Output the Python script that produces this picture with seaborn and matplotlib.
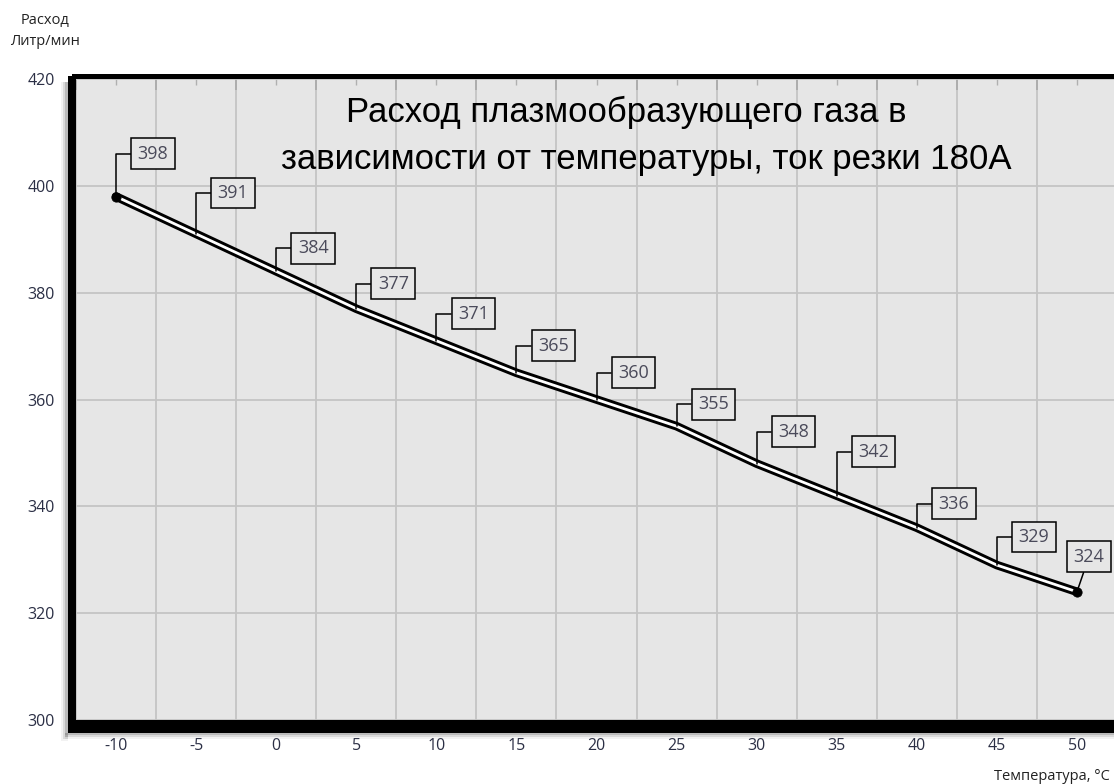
import numpy as np
import pandas as pd
import matplotlib
matplotlib.use("Agg")
import matplotlib.pyplot as plt
from matplotlib.patches import Rectangle
from matplotlib.ticker import MultipleLocator
import seaborn as sns

# data
temperature = [-10, -5, 0, 5, 10, 15, 20, 25, 30, 35, 40, 45, 50]
flow = [398, 391, 384, 377, 371, 365, 360, 355, 348, 342, 336, 329, 324]

title_lines = ["Расход плазмообразующего газа в",
               "зависимости от температуры, ток резки 180А"]
y_label = "Расход\nЛитр/мин"
x_label = "Температура, °С"

# label box offsets (pixels, up from the point)
label_dy = [43, 41, 23, 25, 27, 27, 27, 22, 32, 44, 24, 28, 35]

sns.set_style("white")
plt.rcParams["font.family"] = ["Open Sans", "DejaVu Sans"]

W, H = 1114, 784
fig = plt.figure(figsize=(W / 100, H / 100), dpi=100)

# axes in pixel box: x 76..1117, y 79..720
L, R, T, B = 76, 1117, 79, 720
ax = fig.add_axes([L / W, 1 - B / H, (R - L) / W, (B - T) / H])
ax.set_facecolor("#e6e6e6")

df = pd.DataFrame({"t": temperature, "q": flow})
sns.lineplot(data=df, x="t", y="q", ax=ax, color="black", lw=6.2,
             solid_capstyle="round", zorder=3)
sns.lineplot(data=df, x="t", y="q", ax=ax, color="white", lw=2.0,
             zorder=4)
ends = df.iloc[[0, -1]]
sns.scatterplot(data=ends, x="t", y="q", ax=ax, color="black", s=45,
                edgecolor="black", zorder=5)

ax.set_xlim(-12.5, 52.5)
ax.set_ylim(300, 420)
ax.set_xlabel("")
ax.set_ylabel("")

ax.xaxis.set_major_locator(MultipleLocator(5))
ax.xaxis.set_minor_locator(MultipleLocator(5, offset=2.5))
ax.yaxis.set_major_locator(MultipleLocator(20))
ax.grid(False)
ax.grid(True, which="minor", axis="x", color="#c4c4c4", lw=1.3)
ax.grid(True, which="major", axis="y", color="#c4c4c4", lw=1.3)
ax.tick_params(axis="x", which="major", direction="in", length=4, width=1,
               color="#b0b0b0", pad=13, labelsize=11.5, labelcolor="#2b2f45",
               top=True)
ax.tick_params(axis="x", which="minor", direction="in", length=8, width=1.2,
               color="#a8a8a8", top=True)
ax.tick_params(axis="y", which="major", length=0, pad=15, labelsize=11.5,
               labelcolor="#2b2f45")
ax.set_xticks(temperature)
ax.set_xticklabels([str(t) for t in temperature])
for s in ax.spines.values():
    s.set_visible(False)


def px(x, y):
    return x / W, 1 - y / H


# frame: black bands with soft shadow
def band(x0, y0, x1, y1, color, alpha=1.0, z=5):
    fx0, fy1 = px(x0, y0)
    fx1, fy0 = px(x1, y1)
    fig.patches.append(Rectangle((fx0, fy0), fx1 - fx0, fy1 - fy0,
                                 transform=fig.transFigure, color=color,
                                 alpha=alpha, zorder=z, lw=0))


for k, a in enumerate([0.35, 0.2, 0.1]):
    band(65 - k * 2, 82, 68, 737 + k * 2, "#808080", a)
    band(65, 733, 1114, 735 + k * 2, "#808080", a)
band(68, 76, 76, 733, "black")
band(68, 720, 1114, 733, "black")
band(72, 74, 1114, 79, "black")

# value labels
box = dict(boxstyle="square,pad=0.35", fc="#e6e6e6", ec="black", lw=1.1)
for i, (t, q) in enumerate(zip(temperature, flow)):
    if i == len(flow) - 1:
        ax.annotate(str(q), xy=(t, q), xytext=(12, label_dy[i]),
                    textcoords="offset pixels", ha="center", va="center",
                    fontsize=13, color="#4a4a5a", bbox=box,
                    arrowprops=dict(arrowstyle="-", color="black", lw=1.1,
                                    shrinkA=0, shrinkB=2),
                    zorder=6, annotation_clip=False)
    else:
        ax.annotate(str(q), xy=(t, q), xytext=(37, label_dy[i]),
                    textcoords="offset pixels", ha="center", va="center",
                    fontsize=13, color="#4a4a5a", bbox=box,
                    arrowprops=dict(arrowstyle="-", color="black", lw=1.1,
                                    connectionstyle="angle,angleA=0,angleB=90,rad=0",
                                    shrinkA=0, shrinkB=0),
                    zorder=6)

for line, (cx, cy) in zip(title_lines, [(626, 112), (646, 160)]):
    fig.text(*px(cx, cy), line, ha="center", va="center", fontsize=25,
             color="black", family=["Liberation Sans", "DejaVu Sans"], zorder=7)

fig.text(45 / W, 1 - 31 / H, y_label, ha="center", va="center", fontsize=10.5,
         linespacing=1.6, color="#222222")
fig.text(1110 / W, 1 - 777 / H, x_label, ha="right", va="center", fontsize=10.5,
         color="#222222")

fig.savefig("out.png", dpi=100)
